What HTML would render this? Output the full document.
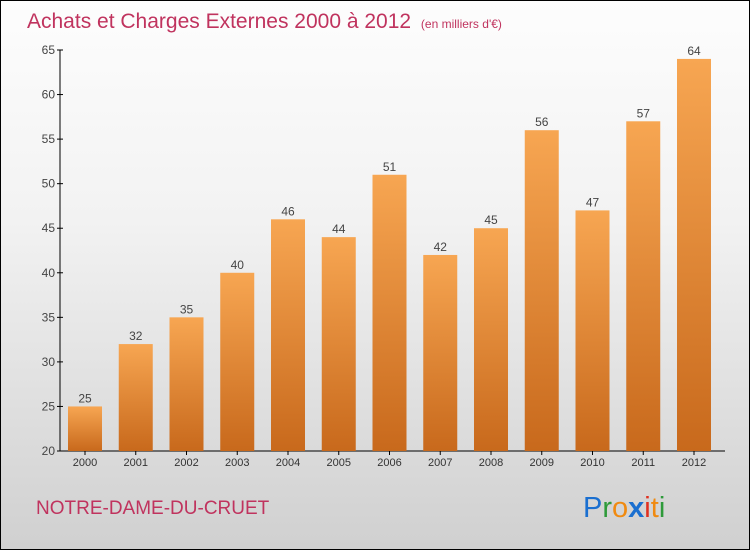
<!DOCTYPE html>
<html><head><meta charset="utf-8"><style>
body{margin:0}
#c{width:750px;height:550px;position:relative;box-sizing:border-box;border:1px solid #000;background:linear-gradient(#fdfdfd,#f2f2f2 40%,#d0d0d0);font-family:"Liberation Sans",sans-serif;overflow:hidden}
</style></head><body>
<div id="c">
<svg id="s" width="750" height="550" style="position:absolute;left:-1px;top:-1px">
<defs><linearGradient id="g" x1="0" y1="0" x2="0" y2="1"><stop offset="0" stop-color="#f7a652"/><stop offset="1" stop-color="#c8691c"/></linearGradient></defs>
<text x="27" y="28" font-size="21" fill="#c0335e">Achats et Charges Externes 2000 à 2012 <tspan font-size="12" dx="4">(en milliers d'€)</tspan></text>
<text x="36" y="514" font-size="19" fill="#c0335e">NOTRE-DAME-DU-CRUET</text>
<text x="583" y="517" font-size="29"><tspan fill="#1a6fd0">P</tspan><tspan fill="#2e9a3a">r</tspan><tspan fill="#f08a10">o</tspan><tspan fill="#1a6fd0" font-weight="bold">x</tspan><tspan fill="#e03020">i</tspan><tspan fill="#f08a10">t</tspan><tspan fill="#2e9a3a">i</tspan></text>
<g id="plot"></g>
</svg>
</div>
<script>
const years=["2000","2001","2002","2003","2004","2005","2006","2007","2008","2009","2010","2011","2012"];
const values=[25,32,35,40,46,44,51,42,45,56,47,57,64];
const ticks=[20,25,30,35,40,45,50,55,60,65];
const NS="http://www.w3.org/2000/svg";
const p=document.getElementById('plot');
const y=v=>451-(v-20)*(401/45);
const x=i=>85+i*50.75;
function el(t,a){const e=document.createElementNS(NS,t);for(const k in a)e.setAttribute(k,a[k]);p.appendChild(e);return e;}
let ax=el('line',{x1:60,y1:50,x2:60,y2:451,stroke:'#000'});


let bx=el('line',{x1:60,y1:451,x2:725,y2:451,stroke:'#000'});


ticks.forEach(t=>{
 let l=el('line',{x1:57,x2:63,y1:y(t),y2:y(t),stroke:'#000'});
 
 
 let tx=el('text',{x:55,y:y(t)+4,'font-size':12,fill:'#444','text-anchor':'end'});tx.textContent=t;
 
 
});
years.forEach((yr,i)=>{
 const v=values[i];
 let r=el('rect',{x:x(i)-17,y:y(v),width:34,height:451-y(v),fill:'url(#g)'});
 
 
 let vl=el('text',{x:x(i),y:y(v)-4,'font-size':12,fill:'#444','text-anchor':'middle'});vl.textContent=v;
 
 
 let tl=el('text',{x:x(i),y:466,'font-size':11,fill:'#333','text-anchor':'middle'});tl.textContent=yr;
 
 
 let tk=el('line',{x1:x(i),x2:x(i),y1:451,y2:455,stroke:'#000'});
 
 
});
</script>
</body></html>
